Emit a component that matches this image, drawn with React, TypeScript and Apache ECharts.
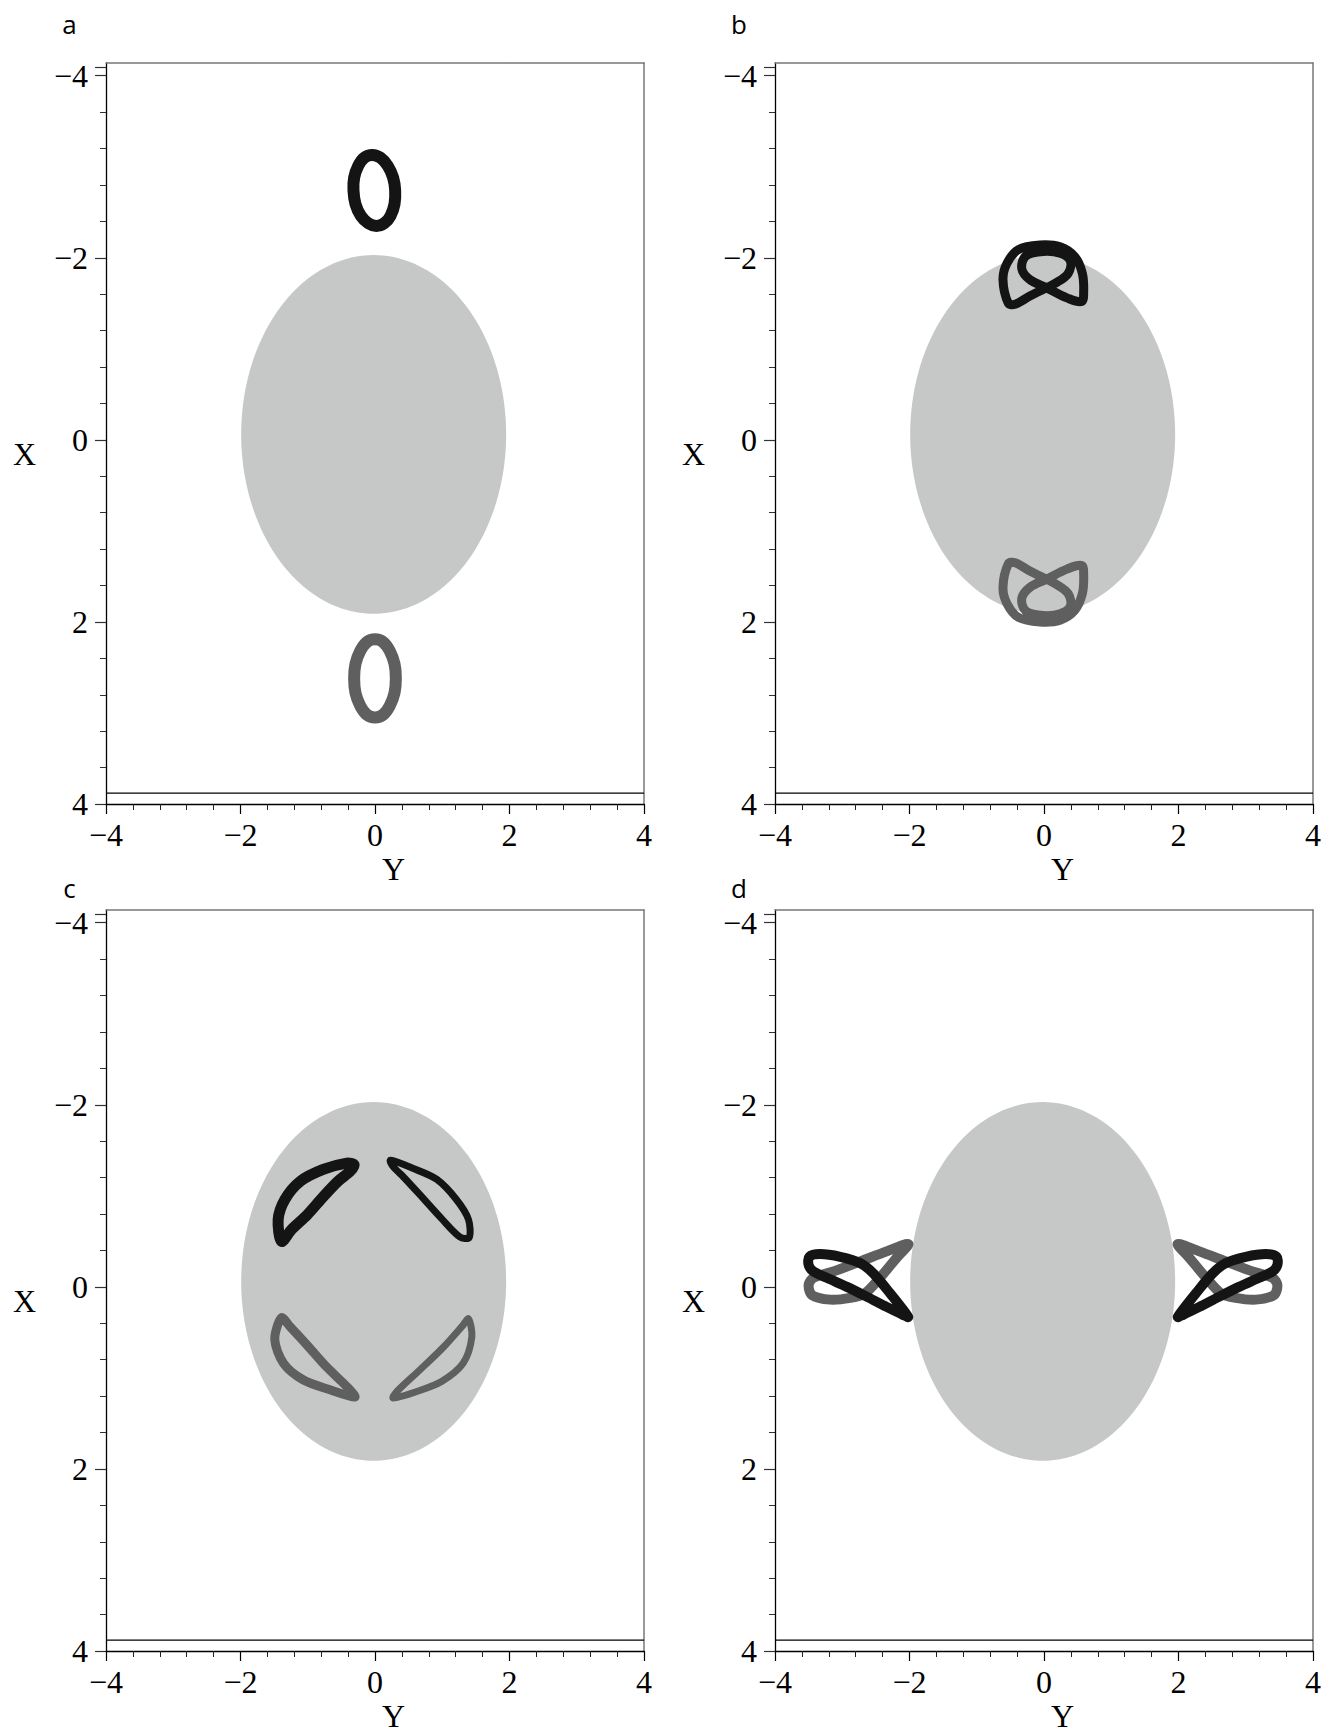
import React, { useEffect, useRef } from "react";
import * as echarts from "echarts";

// ---------- axis values ----------
const majorTicks = [-4, -2, 0, 2, 4];
const yTopExtraTick = -4.09;
const minorTicks = [-3.6, -3.2, -2.8, -2.4, -1.6, -1.2, -0.8, -0.4, 0.4, 0.8, 1.2, 1.6, 2.4, 2.8, 3.2, 3.6];
const horizRange = [-4, 4];
const vertRange = [-4.14, 4];
const boundaryLine = [[-4, 3.88], [4, 3.88]];
// central body: [Y centre, X centre, radius]
const centralBody = [[-0.02, -0.06, 1.97]];

const panelLetters = ["a", "b", "c", "d"];
const xTitle = "X";
const yTitle = "Y";

// ---------- orbit ribbons, points are [Y, X] ----------
const aBlack = [
  [0.3, -2.74], [0.29, -2.59], [0.23, -2.46], [0.14, -2.38],
  [0.02, -2.35], [-0.1, -2.38], [-0.21, -2.46], [-0.29, -2.59],
  [-0.32, -2.74], [-0.31, -2.88], [-0.25, -3.01], [-0.16, -3.1],
  [-0.04, -3.13], [0.08, -3.1], [0.19, -3.01], [0.27, -2.88],
];
const aGray = [
  [0.31, 2.62], [0.29, 2.78], [0.22, 2.92], [0.12, 3.02],
  [0.0, 3.05], [-0.12, 3.02], [-0.22, 2.92], [-0.29, 2.78],
  [-0.31, 2.62], [-0.29, 2.46], [-0.22, 2.32], [-0.12, 2.22],
  [0.0, 2.19], [0.12, 2.22], [0.22, 2.32], [0.29, 2.46],
];

const bBlack = [
  [-0.53, -1.5], [-0.61, -1.76], [-0.55, -1.94], [-0.38, -2.09], [-0.06, -2.14],
  [0.24, -2.12], [0.46, -2.01], [0.57, -1.83], [0.59, -1.63], [0.56, -1.52],
  [0.34, -1.56], [0.04, -1.67], [-0.21, -1.76], [-0.33, -1.88], [-0.27, -2.02],
  [-0.01, -2.07], [0.24, -2.05], [0.39, -1.97], [0.36, -1.83], [0.19, -1.73],
  [-0.21, -1.58], [-0.43, -1.49],
];
const bGray = [
  [-0.53, 1.36], [-0.61, 1.62], [-0.55, 1.8], [-0.38, 1.95], [-0.06, 2.0],
  [0.24, 1.98], [0.46, 1.87], [0.57, 1.69], [0.59, 1.49], [0.56, 1.38],
  [0.34, 1.42], [0.04, 1.53], [-0.21, 1.62], [-0.33, 1.74], [-0.27, 1.88],
  [-0.01, 1.93], [0.24, 1.91], [0.39, 1.83], [0.36, 1.69], [0.19, 1.59],
  [-0.21, 1.44], [-0.43, 1.35],
];

const cBlackLeft = [
  [-1.39, -0.5], [-1.44, -0.74], [-1.34, -0.96], [-1.11, -1.16], [-0.77, -1.29],
  [-0.42, -1.36], [-0.31, -1.34], [-0.37, -1.27], [-0.55, -1.16], [-0.77, -0.99],
  [-1.01, -0.79], [-1.24, -0.63],
];
const cBlackRight = [
  [0.23, -1.39], [0.57, -1.3], [0.92, -1.18], [1.21, -0.96], [1.39, -0.74],
  [1.4, -0.54], [1.26, -0.55], [0.99, -0.75], [0.67, -1.01], [0.42, -1.21],
  [0.27, -1.32],
];
const cGrayLeft = [
  [-1.39, 0.34], [-1.49, 0.58], [-1.36, 0.84], [-1.07, 1.02], [-0.67, 1.13],
  [-0.3, 1.21], [-0.4, 1.11], [-0.72, 0.88], [-1.01, 0.64], [-1.26, 0.44],
];
const cGrayRight = [
  [1.39, 0.35], [1.44, 0.55], [1.31, 0.84], [0.99, 1.04], [0.62, 1.15],
  [0.27, 1.22], [0.35, 1.13], [0.67, 0.91], [1.02, 0.66], [1.31, 0.42],
];

const dBlackLeft = [
  [-2.02, 0.33], [-2.29, 0.07], [-2.54, -0.15], [-2.73, -0.26], [-3.03, -0.33],
  [-3.33, -0.36], [-3.49, -0.33], [-3.5, -0.24], [-3.43, -0.17], [-3.23, -0.1],
  [-2.93, 0.0], [-2.63, 0.11], [-2.34, 0.22], [-2.09, 0.31],
];
const dGrayLeft = [
  [-2.02, -0.47], [-2.34, -0.39], [-2.73, -0.28], [-3.13, -0.17], [-3.43, -0.1],
  [-3.5, -0.02], [-3.45, 0.09], [-3.18, 0.14], [-2.88, 0.12], [-2.66, 0.07],
  [-2.44, -0.1], [-2.19, -0.32],
];
const dBlackRight = [
  [1.99, 0.33], [2.26, 0.07], [2.51, -0.15], [2.7, -0.26], [3.0, -0.33],
  [3.3, -0.36], [3.46, -0.33], [3.47, -0.24], [3.4, -0.17], [3.2, -0.1],
  [2.9, 0.0], [2.6, 0.11], [2.31, 0.22], [2.06, 0.31],
];
const dGrayRight = [
  [1.99, -0.47], [2.31, -0.39], [2.7, -0.28], [3.1, -0.17], [3.4, -0.1],
  [3.47, -0.02], [3.42, 0.09], [3.15, 0.14], [2.85, 0.12], [2.63, 0.07],
  [2.41, -0.1], [2.16, -0.32],
];

// ---------- styling / layout ----------
const BLACK = "#141414";
const GRAY = "#5f5f5f";
const BODY = "#c6c7c7";
const SERIF = "Liberation Serif, serif";
const SANS = "Open Sans, sans-serif";

const PW = 538;
const PH = 741;
const boxes = [
  { left: 106, top: 63 },
  { left: 775, top: 63 },
  { left: 106, top: 910 },
  { left: 775, top: 910 },
];
const letterPos = [[69.5, 23.5], [739, 23.5], [69.5, 888], [739, 888]];

const panelRibbons = [
  [{ pts: aGray, color: GRAY, w: 12, s: 0.4 }, { pts: aBlack, color: BLACK, w: 12, s: 0.4 }],
  [{ pts: bGray, color: GRAY, w: 9, s: 0.35 }, { pts: bBlack, color: BLACK, w: 9, s: 0.35 }],
  [
    { pts: cGrayLeft, color: GRAY, w: 9, s: 0.3 },
    { pts: cGrayRight, color: GRAY, w: 7, s: 0.3 },
    { pts: cBlackLeft, color: BLACK, w: 11, s: 0.3 },
    { pts: cBlackRight, color: BLACK, w: 7, s: 0.3 },
  ],
  [
    { pts: dGrayLeft, color: GRAY, w: 10, s: 0.3 },
    { pts: dGrayRight, color: GRAY, w: 10, s: 0.3 },
    { pts: dBlackLeft, color: BLACK, w: 10, s: 0.3 },
    { pts: dBlackRight, color: BLACK, w: 10, s: 0.3 },
  ],
];

const fmt = (v: number) => (v < 0 ? "\u2212" + Math.abs(v) : String(v));

function buildOption() {
  const grid: any[] = [];
  const xAxis: any[] = [];
  const yAxis: any[] = [];
  const series: any[] = [];
  const graphic: any[] = [];

  boxes.forEach((b, i) => {
    grid.push({ left: b.left, top: b.top, width: PW, height: PH });
    xAxis.push({
      gridIndex: i, type: "value", min: horizRange[0], max: horizRange[1], position: "bottom",
      axisLine: { show: true, onZero: false, lineStyle: { color: "#000", width: 1.3 } },
      axisTick: { show: true, length: 10, customValues: majorTicks, lineStyle: { color: "#000", width: 1.2 } },
      axisLabel: { show: true, customValues: majorTicks, formatter: fmt, fontFamily: SERIF, fontSize: 32, color: "#000", margin: 15 },
      splitLine: { show: false },
    });
    xAxis.push({
      gridIndex: i, type: "value", min: horizRange[0], max: horizRange[1], position: "bottom",
      axisLine: { show: false, onZero: false },
      axisTick: { show: true, length: 6, customValues: minorTicks, lineStyle: { color: "#222", width: 1 } },
      axisLabel: { show: false }, splitLine: { show: false },
    });
    xAxis.push({
      gridIndex: i, type: "value", min: horizRange[0], max: horizRange[1], position: "top",
      axisLine: { show: true, onZero: false, lineStyle: { color: "#777", width: 1.5 } },
      axisTick: { show: false }, axisLabel: { show: false }, splitLine: { show: false },
    });

    yAxis.push({
      gridIndex: i, type: "value", min: vertRange[0], max: vertRange[1], inverse: true, position: "left",
      axisLine: { show: true, onZero: false, lineStyle: { color: "#000", width: 1.3 } },
      axisTick: { show: true, length: 11, customValues: [yTopExtraTick, ...majorTicks], lineStyle: { color: "#333", width: 1.2 } },
      axisLabel: { show: true, customValues: majorTicks, formatter: fmt, fontFamily: SERIF, fontSize: 32, color: "#000", margin: 18 },
      splitLine: { show: false },
    });
    yAxis.push({
      gridIndex: i, type: "value", min: vertRange[0], max: vertRange[1], inverse: true, position: "left",
      axisLine: { show: false, onZero: false },
      axisTick: { show: true, length: 6, customValues: minorTicks, lineStyle: { color: "#333", width: 1 } },
      axisLabel: { show: false }, splitLine: { show: false },
    });
    yAxis.push({
      gridIndex: i, type: "value", min: vertRange[0], max: vertRange[1], inverse: true, position: "right",
      axisLine: { show: true, onZero: false, lineStyle: { color: "#777", width: 1.5 } },
      axisTick: { show: false }, axisLabel: { show: false }, splitLine: { show: false },
    });

    const ax = 3 * i;
    series.push({
      type: "custom", xAxisIndex: ax, yAxisIndex: ax, data: centralBody, encode: { x: 0, y: 1 }, silent: true, z: 1,
      renderItem: (params: any, api: any) => {
        const cy = api.value(0), cx = api.value(1), r = api.value(2);
        const pts: number[][] = [];
        const n = 180;
        for (let k = 0; k < n; k++) {
          const t = (k / n) * Math.PI * 2;
          pts.push(api.coord([cy + r * Math.cos(t), cx + r * Math.sin(t)]));
        }
        return { type: "polygon", shape: { points: pts }, style: { fill: BODY, stroke: "none" } };
      },
    });
    series.push({
      type: "line", xAxisIndex: ax, yAxisIndex: ax, data: boundaryLine, symbol: "none", silent: true, z: 2,
      lineStyle: { color: "#000", width: 1.2 },
    });
    panelRibbons[i].forEach((rb, k) => {
      series.push({
        type: "custom", xAxisIndex: ax, yAxisIndex: ax, data: rb.pts, encode: { x: 0, y: 1 }, silent: true, z: 3 + k,
        renderItem: (params: any, api: any) => {
          if (params.dataIndex !== 0) return null;
          const pts = rb.pts.map((p) => api.coord(p));
          return {
            type: "polygon",
            shape: { points: pts, smooth: rb.s },
            style: { fill: "none", stroke: rb.color, lineWidth: rb.w, lineJoin: "round" },
          };
        },
      });
    });

    graphic.push({
      type: "text", x: letterPos[i][0], y: letterPos[i][1],
      style: { text: panelLetters[i], fontFamily: SANS, fontSize: 26, fill: "#000", textAlign: "center", textVerticalAlign: "middle" },
    });
    graphic.push({
      type: "text", x: b.left - 81.5, y: b.top + 391,
      style: { text: xTitle, fontFamily: SERIF, fontSize: 32, fill: "#000", textAlign: "center", textVerticalAlign: "middle" },
    });
    graphic.push({
      type: "text", x: b.left + 287.5, y: b.top + 806,
      style: { text: yTitle, fontFamily: SERIF, fontSize: 32, fill: "#000", textAlign: "center", textVerticalAlign: "middle" },
    });
  });

  return { animation: false, backgroundColor: "#fff", grid, xAxis, yAxis, series, graphic };
}

export default function App() {
  const ref = useRef<HTMLDivElement>(null);
  useEffect(() => {
    if (!ref.current) return;
    const chart = echarts.init(ref.current, undefined, { renderer: "svg" });
    chart.setOption(buildOption() as any);
    return () => chart.dispose();
  }, []);
  return (
    <div
      ref={ref}
      style={{ position: "absolute", left: 0, top: 0, width: 1335, height: 1736, background: "#fff" }}
    />
  );
}
